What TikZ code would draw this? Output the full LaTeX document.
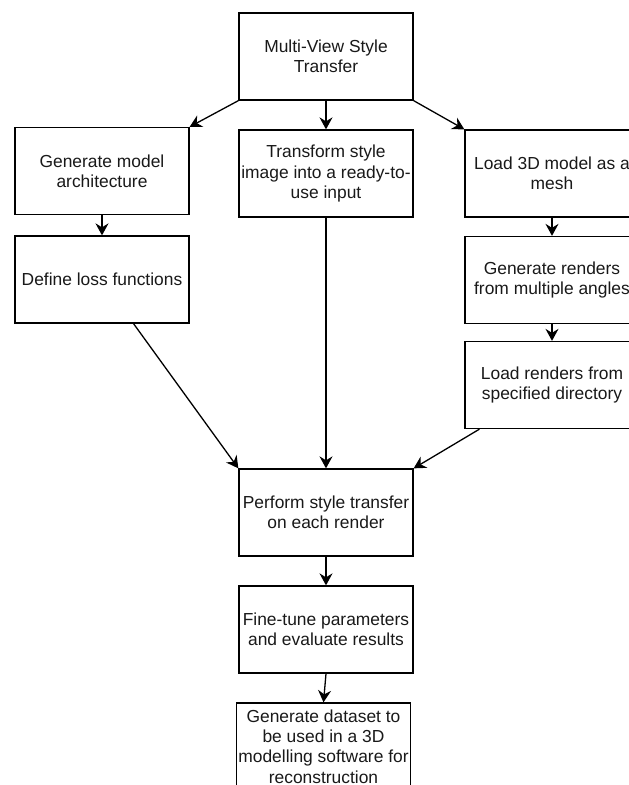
\documentclass[tikz,border=0pt]{standalone}
\usepackage{fontspec}
\setmainfont{Liberation Sans}
\usetikzlibrary{arrows.meta,calc}
\begin{document}
\begin{tikzpicture}[x={(1pt,0)},y={(0,-1pt)},
  box/.style={draw=black,line width=1.3pt,fill=white,minimum width=174pt,minimum height=87pt,
    inner sep=0pt,align=center,text=black!90,font=\fontsize{17.4}{20.4}\selectfont},
  conn/.style={draw=black,line width=1.3pt,-{Stealth[length=12pt,width=13pt,inset=4pt]}}]
\clip (0,0) rectangle (629,785);
\fill[white] (0,0) rectangle (629,785);
\node[box] (top) at (326,56.5) {Multi-View Style\\Transfer};
\node[box] (gen) at (102,171) {Generate model\\architecture};
\node[box] (trans) at (326,173.5) {Transform style\\image into a ready-to-\\use input};
\node[box] (load3d) at (552,173.5) {Load 3D model as a\\mesh};
\node[box] (loss) at (102,279.5) {Define loss functions};
\node[box] (renders) at (552,280) {Generate renders\\from multiple angles};
\node[box] (loadr) at (552,385) {Load renders from\\specified directory};
\node[box] (perform) at (326,512.5) {Perform style transfer\\on each render};
\node[box] (fine) at (326,629.5) {Fine-tune parameters\\and evaluate results};
\node[box] (data) at (323.5,746.5) {Generate dataset to\\be used in a 3D\\modelling software for\\reconstruction};
\coordinate (lossout) at ($(loss.south west)!0.68!(loss.south east)$);
\coordinate (loadrout) at ($(loadr.south west)!0.086!(loadr.south east)$);
\draw[conn] (top.south west) -- (gen.north east);
\draw[conn] (top.south) -- (trans.north);
\draw[conn] (top.south east) -- (load3d.north west);
\draw[conn] (gen.south) -- (loss.north);
\draw[conn] (load3d.south) -- (renders.north);
\draw[conn] (renders.south) -- (loadr.north);
\draw[conn] (lossout) -- (perform.north west);
\draw[conn] (trans.south) -- (perform.north);
\draw[conn] (loadrout) -- (perform.north east);
\draw[conn] (perform.south) -- (fine.north);
\draw[conn] (fine.south) -- (data.north);
\end{tikzpicture}
\end{document}
